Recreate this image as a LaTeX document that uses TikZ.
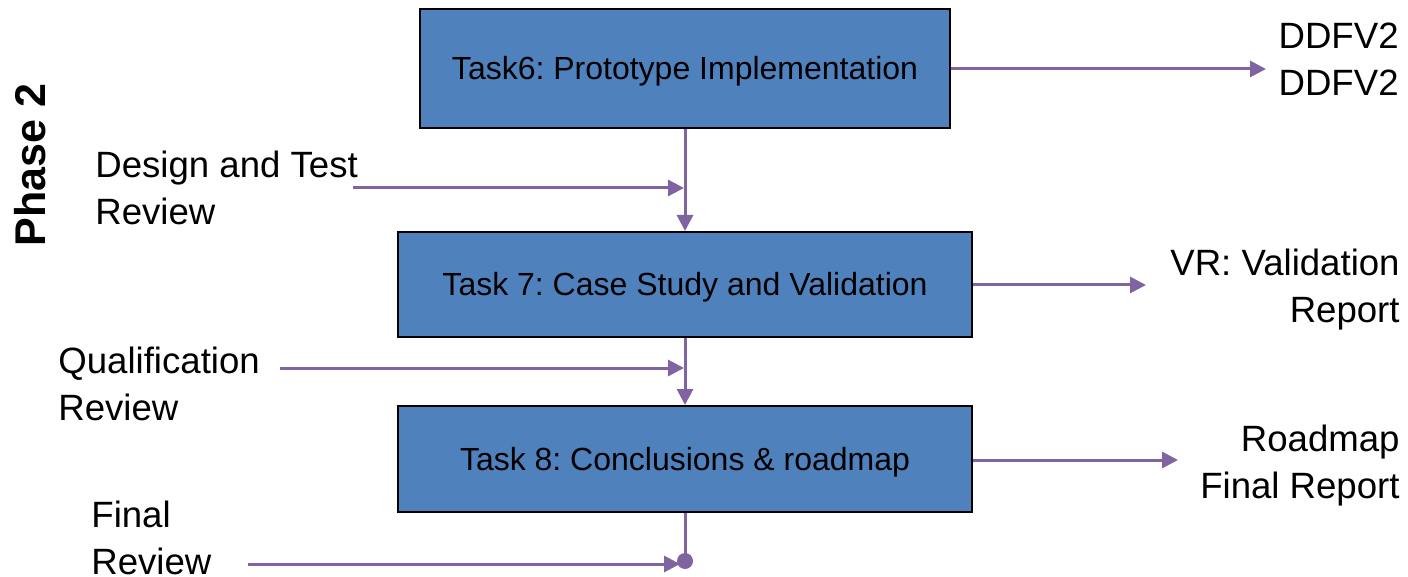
\documentclass[tikz,border=0pt]{standalone}
\usepackage{fontspec}
\setmainfont{Liberation Sans}
\usepackage{xcolor}
\definecolor{cBox}{HTML}{4F81BD}
\definecolor{cLine}{HTML}{8064A2}
\usetikzlibrary{positioning,arrows.meta}
\frenchspacing
\tikzset{
  task-box/.style={draw=black,line width=1pt,fill=cBox,align=center,
    inner sep=0pt,text height=11.5pt,text depth=0pt,
    font=\fontsize{16}{19}\selectfont},
  side-text/.style={inner sep=0pt,font=\fontsize{18.3}{23.5}\selectfont},
  arrow/.style={-{Triangle[length=8pt,width=8pt]},line width=1.5pt,draw=cLine},
  link/.style={line width=1.5pt,draw=cLine},
}

\begin{document}
\begin{tikzpicture}[x=0.5pt,y=-0.5pt]
  \useasboundingbox (0,0) rectangle (1408,577);
  % phase label
  \node[rotate=90,anchor=base,inner sep=0pt,
    font=\fontsize{21.5}{25}\selectfont\bfseries] (phase) at (45,165) {Phase 2};
  % tasks
  \node[task-box,minimum width=265pt,minimum height=59.5pt] (task6) at (685,68.5)
    {Task6: Prototype Implementation};
  \node[task-box,minimum width=287pt,minimum height=52.5pt] (task7) at (685,284.5)
    {Task 7: Case Study and Validation};
  \node[task-box,minimum width=287pt,minimum height=53pt] (task8) at (685,459)
    {Task 8: Conclusions \& roadmap};
  % reviews (base = last line)
  \node[side-text,anchor=base west,align=left] (dtr) at (95,225) {Design and Test\\Review};
  \node[side-text,anchor=base west,align=left] (qr) at (58,420) {Qualification\\Review};
  \node[side-text,anchor=base west,align=left] (fr) at (91,574) {Final\\Review};
  % deliverables
  \node[side-text,anchor=base east,align=right] (ddfv) at (1399,96) {DDFV2\\DDFV2};
  \node[side-text,anchor=base east,align=right] (vr) at (1400,322) {VR: Validation\\Report};
  \node[side-text,anchor=base east,align=right] (rm) at (1400,498) {Roadmap\\Final Report};
  % connector ends
  \coordinate (dtr-out) at (353,188);
  \coordinate (dtr-in) at (684,188);
  \coordinate (qr-out) at (280,368);
  \coordinate (qr-in) at (684,368);
  \coordinate (fr-out) at (248,564);
  \coordinate (fr-in) at (680,564);
  \coordinate (fr-dot) at (684,561);
  \coordinate (ddfv-in) at (1266,69);
  \coordinate (vr-in) at (1146,285);
  \coordinate (rm-in) at (1178,460);
  % flow
  \draw[arrow] (task6.south) -- (task7.north);
  \draw[arrow] (task7.south) -- (task8.north);
  \draw[link] (task8.south) -- (task8.south |- fr-dot);
  \fill[cLine] (task8.south |- fr-dot) circle (4pt);
  \draw[arrow] (dtr-out) -- (dtr-in);
  \draw[arrow] (qr-out) -- (qr-in);
  \draw[arrow] (fr-out) -- (fr-in);
  \draw[arrow] (task6.east |- ddfv-in) -- (ddfv-in);
  \draw[arrow] (task7.east |- vr-in) -- (vr-in);
  \draw[arrow] (task8.east |- rm-in) -- (rm-in);
\end{tikzpicture}
\end{document}
